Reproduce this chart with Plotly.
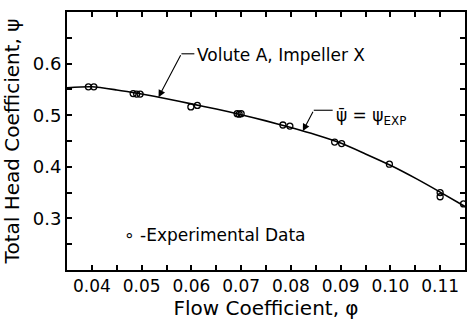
import numpy as np
import plotly.graph_objects as go

# Fitted curve (psi_bar = psi_EXP)
phi_curve = [0.035, 0.040, 0.045, 0.050, 0.055, 0.060, 0.065, 0.070, 0.075,
             0.080, 0.085, 0.090, 0.095, 0.100, 0.105, 0.110, 0.115]
psi_curve = [0.553, 0.555, 0.549, 0.541, 0.532, 0.522, 0.512, 0.501, 0.489,
             0.476, 0.462, 0.446, 0.425, 0.403, 0.378, 0.351, 0.323]

# Experimental data
phi_exp = [0.0393, 0.0404, 0.0483, 0.0490, 0.0497, 0.0599, 0.0612,
           0.0692, 0.0696, 0.0700, 0.0784, 0.0798, 0.0888, 0.0902,
           0.0998, 0.1100, 0.1100, 0.1147]
psi_exp = [0.555, 0.555, 0.542, 0.541, 0.541, 0.516, 0.519,
           0.503, 0.502, 0.503, 0.481, 0.479, 0.448, 0.445,
           0.405, 0.350, 0.342, 0.328]

x_tickvals = [0.035, 0.040, 0.045, 0.050, 0.055, 0.060, 0.065, 0.070, 0.075,
              0.080, 0.085, 0.090, 0.095, 0.100, 0.105, 0.110, 0.115]
x_ticktext = ["", "0.04", "", "0.05", "", "0.06", "", "0.07", "",
              "0.08", "", "0.09", "", "0.10", "", "0.11", ""]
y_tickvals = [0.25, 0.30, 0.35, 0.40, 0.45, 0.50, 0.55, 0.60, 0.65]
y_ticktext = ["", "0.3", "", "0.4", "", "0.5", "", "0.6", ""]

FONT = "DejaVu Sans"

fig = go.Figure()
fig.add_trace(go.Scatter(x=phi_curve, y=psi_curve, mode="lines",
                         line=dict(color="black", width=1.6, shape="spline",
                                   smoothing=0.7),
                         showlegend=False, hoverinfo="skip"))
fig.add_trace(go.Scatter(x=phi_exp, y=psi_exp, mode="markers",
                         marker=dict(symbol="circle-open", size=6, color="black",
                                     line=dict(width=1.3, color="black")),
                         showlegend=False))

def on_curve(p):
    return float(np.interp(p, phi_curve, psi_curve))

# Annotation 1: Volute A, Impeller X
tip1 = 0.0534
fig.add_annotation(x=tip1, y=on_curve(tip1), ax=0.0580, ay=0.619,
                   axref="x", ayref="y", xref="x", yref="y", text="",
                   showarrow=True, arrowhead=2, arrowsize=1.3, arrowwidth=1.1,
                   arrowcolor="black", standoff=0)
fig.add_shape(type="line", x0=0.0580, x1=0.0606, y0=0.619, y1=0.619,
              line=dict(color="black", width=1.1))
fig.add_annotation(x=0.0608, y=0.616, xref="x", yref="y", text="Volute A, Impeller X",
                   showarrow=False, xanchor="left", yanchor="middle",
                   font=dict(family=FONT, size=17, color="black"))

# Annotation 2: psi_bar = psi_EXP
tip2 = 0.0824
fig.add_annotation(x=tip2, y=on_curve(tip2), ax=0.0846, ay=0.5096,
                   axref="x", ayref="y", xref="x", yref="y", text="",
                   showarrow=True, arrowhead=2, arrowsize=1.3, arrowwidth=1.1,
                   arrowcolor="black", standoff=0)
fig.add_shape(type="line", x0=0.0846, x1=0.0884, y0=0.5096, y1=0.5096,
              line=dict(color="black", width=1.1))
fig.add_annotation(x=0.0887, y=0.497, xref="x", yref="y",
                   text="\u03c8\u0304 = \u03c8<sub>EXP</sub>",
                   showarrow=False, xanchor="left", yanchor="middle",
                   font=dict(family=FONT, size=17, color="black"))

# Legend key
fig.add_annotation(x=0.0460, y=0.267, xref="x", yref="y",
                   text="\u2218 -Experimental Data", showarrow=False,
                   xanchor="left", yanchor="middle",
                   font=dict(family=FONT, size=17, color="black"))

fig.update_layout(
    width=469, height=320,
    margin=dict(l=67, r=2, t=12, b=47),
    paper_bgcolor="white", plot_bgcolor="white",
    font=dict(family=FONT, color="black"),
)
fig.update_xaxes(range=[0.035, 0.115], tickvals=x_tickvals, ticktext=x_ticktext,
                 ticks="inside", ticklen=5, tickwidth=1.5, tickcolor="black",
                 showline=True, linewidth=2, linecolor="black", mirror="ticks",
                 showgrid=False, zeroline=False,
                 tickfont=dict(family=FONT, size=17),
                 title=dict(text="Flow Coefficient, \u03c6", standoff=8,
                            font=dict(family=FONT, size=20)))
fig.update_yaxes(range=[0.2, 0.7], tickvals=y_tickvals, ticktext=y_ticktext,
                 ticks="inside", ticklen=5, tickwidth=1.5, tickcolor="black",
                 showline=True, linewidth=2, linecolor="black", mirror="ticks",
                 showgrid=False, zeroline=False,
                 tickfont=dict(family=FONT, size=18),
                 title=dict(text="Total Head Coefficient, \u03c8", standoff=8,
                            font=dict(family=FONT, size=20)))

fig.write_html("out.html")
